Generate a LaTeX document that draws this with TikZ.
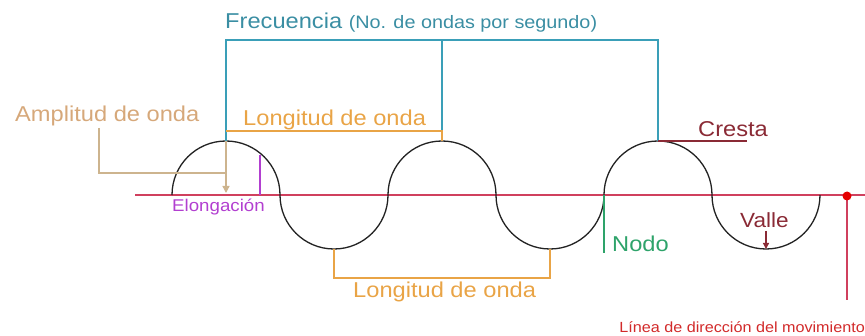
\documentclass[tikz,border=0pt]{standalone}
\usepackage{fontspec}
\setmainfont[FakeStretch=1.1]{Liberation Sans}
\usetikzlibrary{arrows.meta}
\definecolor{tealline}{HTML}{3A9FB8}
\definecolor{tealtext}{HTML}{3A8EA3}
\definecolor{orangec}{HTML}{E9A446}
\definecolor{tantext}{HTML}{D6A87A}
\definecolor{tanline}{HTML}{CDB48E}
\definecolor{purplec}{HTML}{B23FD0}
\definecolor{greenc}{HTML}{2EA36A}
\definecolor{darkred}{HTML}{8A2A35}
\definecolor{axisred}{HTML}{D0405E}
\definecolor{brightred}{HTML}{D22A2A}
\definecolor{wavec}{HTML}{222222}
\begin{document}
\begin{tikzpicture}[x=1pt,y=1pt,
  lbl/.style={inner sep=0pt, anchor=base west},
  big/.style={font=\fontsize{21.5}{24}\selectfont},
  wave/.style={draw=wavec, line width=1.3pt},
  tealbar/.style={draw=tealline, line width=2.2pt},
  orangebar/.style={draw=orangec, line width=1.3pt},
  tanbar/.style={draw=tanline, line width=1.3pt}]
\useasboundingbox (0,0) rectangle (865,335);

% key points
\coordinate (axL) at (135,140);
\coordinate (axR) at (865,140);
\coordinate (w0) at (172,140);
\coordinate (c1) at (226,194);
\coordinate (c2) at (442,194);
\coordinate (c3) at (658,194);
\coordinate (t2) at (334,86);
\coordinate (t3) at (550,86);
\coordinate (t4) at (766,86);
\coordinate (n3) at (604,140);

% axis
\draw[axisred, line width=1.3pt] (axL) -- (axR);

% wave
\draw[wave] (w0) arc[start angle=180,end angle=0,radius=54]
  arc[start angle=180,end angle=360,radius=54]
  arc[start angle=180,end angle=0,radius=54]
  arc[start angle=180,end angle=360,radius=54]
  arc[start angle=180,end angle=0,radius=54]
  arc[start angle=180,end angle=360,radius=54];

% Frecuencia
\node[lbl, big, text=tealtext] (frec) at (225,306) {Frecuencia \fontsize{18}{20}\selectfont(No. de ondas por segundo)};
\coordinate (f1) at (226,295);
\coordinate (f2) at (442,295);
\coordinate (f3) at (658,295);
\draw[tealbar] (c1) -- (f1) -- (f3) -- (c3);
\draw[tealbar] (f2) -- (c2);

% Longitud de onda (top)
\node[lbl, big, text=orangec] (lon1) at (243,209) {Longitud de onda};
\coordinate (o1) at (226,204);
\coordinate (o2) at (442,204);
\draw[orangebar] (o1) -- (o2) -- (c2);

% Amplitud de onda
\node[lbl, big, text=tantext] (amp) at (15,213) {Amplitud de onda};
\coordinate (a1) at (99,207);
\coordinate (a2) at (99,162);
\coordinate (a3) at (226,162);
\coordinate (atip) at (226,142);
\draw[tanbar] (a1) -- (a2) -- (a3);
\draw[tanbar, -{Triangle[width=7pt,length=7pt]}] (c1) -- (atip);

% Elongacion
\coordinate (e1) at (260,180);
\coordinate (e2) at (260,140);
\draw[purplec, line width=2.2pt] (e1) -- (e2);
\node[lbl, text=purplec, font=\fontsize{17}{19}\selectfont] (elo) at (172,123) {Elongación};

% Longitud de onda (bottom)
\coordinate (b1) at (334,57);
\coordinate (b2) at (550,57);
\draw[orangebar] (t2) -- (b1) -- (b2) -- (t3);
\node[lbl, big, text=orangec] (lon2) at (353,38) {Longitud de onda};

% Nodo
\coordinate (nd) at (604,82);
\draw[greenc, line width=1.5pt] (n3) -- (nd);
\node[lbl, big, text=greenc] (nodo) at (612,83) {Nodo};

% Cresta
\coordinate (cr) at (747,194);
\draw[darkred, line width=1.3pt] (c3) -- (cr);
\node[lbl, big, text=darkred] (cresta) at (698,198) {Cresta};

% Valle
\node[lbl, text=darkred, font=\fontsize{20.5}{23}\selectfont] (valle) at (740,107) {Valle};
\coordinate (v1) at (766,104);
\draw[darkred, line width=1.3pt, -{Triangle[width=6pt,length=6pt]}] (v1) -- (t4);

% direction line
\coordinate (dot) at (847,139);
\coordinate (dl) at (847,35);
\draw[axisred, line width=1.2pt] (dot) -- (dl);
\fill[red!90!black] (dot) circle[radius=4.5];
\node[inner sep=0pt, anchor=base east, text=brightred, font=\fontsize{14.7}{16}\selectfont] (linea) at (865,3) {Línea de dirección del movimiento};
\end{tikzpicture}
\end{document}
